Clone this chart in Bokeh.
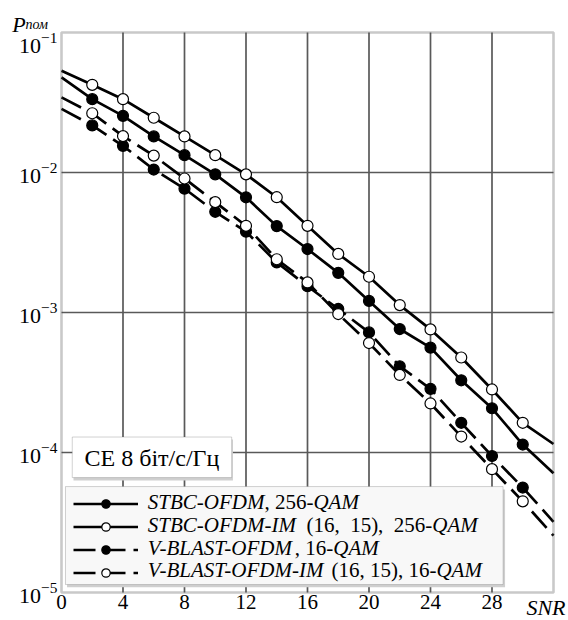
from bokeh.plotting import figure
from bokeh.models import (Range1d, FixedTicker, LogTickFormatter, Label, LogScale,
                          BoxAnnotation, Legend, LegendItem, LinearAxis, LogAxis)
from bokeh.embed import file_html
from bokeh.resources import INLINE

# ---------------- data ----------------
snr = [2, 4, 6, 8, 10, 12, 14, 16, 18, 20, 22, 24, 26, 28, 30]
stbc_ofdm = [3.34e-2, 2.54e-2, 1.81e-2, 1.33e-2, 9.7e-3, 6.65e-3, 4.14e-3, 2.84e-3,
             1.92e-3, 1.21e-3, 7.62e-4, 5.61e-4, 3.28e-4, 2.07e-4, 1.14e-4]
stbc_ofdm_im = [4.23e-2, 3.34e-2, 2.46e-2, 1.81e-2, 1.33e-2, 9.7e-3, 6.66e-3, 4.16e-3,
                2.62e-3, 1.80e-3, 1.13e-3, 7.57e-4, 4.77e-4, 2.82e-4, 1.63e-4]
vblast_ofdm = [2.17e-2, 1.55e-2, 1.05e-2, 7.67e-3, 5.24e-3, 3.78e-3, 2.28e-3, 1.54e-3,
               1.06e-3, 7.21e-4, 4.13e-4, 2.85e-4, 1.63e-4, 9.44e-5, 5.62e-5]
vblast_ofdm_im = [2.65e-2, 1.82e-2, 1.32e-2, 9.06e-3, 6.14e-3, 4.16e-3, 2.40e-3, 1.64e-3,
                  9.75e-4, 6.05e-4, 3.58e-4, 2.24e-4, 1.30e-4, 7.6e-5, 4.48e-5]

# where the curves meet the frame (SNR = 0 and SNR = 32)
snr_ends = [0, 32]
stbc_ofdm_ends = [4.78e-2, 7.1e-5]
stbc_ofdm_im_ends = [5.33e-2, 1.15e-4]
vblast_ofdm_ends = [2.85e-2, 3.2e-5]
vblast_ofdm_im_ends = [3.44e-2, 2.55e-5]

x_lim = [0, 32]
y_lim = [1e-5, 1e-1]
x_ticks = [0, 4, 8, 12, 16, 20, 24, 28]
y_ticks = [1e-5, 1e-4, 1e-3, 1e-2, 1e-1]

legend_rows = [
    [("STBC-OFDM", "italic"), (", 256-", "normal"), ("QAM", "italic")],
    [("STBC-OFDM-IM", "italic"), ("\u00a0\u00a0(16,\u00a0\u00a015),\u00a0\u00a0256-", "normal"), ("QAM", "italic")],
    [("V-BLAST-OFDM", "italic"), (", 16-", "normal"), ("QAM", "italic")],
    [("V-BLAST-OFDM-IM", "italic"), ("\u00a0(16, 15), 16-", "normal"), ("QAM", "italic")],
]
se_text = "СЕ 8 біт/с/Гц"
y_title = ("P", "пом")
x_title = "SNR"

FONT = "Liberation Serif"

# ---------------- figure ----------------
# the frame fills the canvas; the chart box (0..32, 1e-5..1e-1) sits inside it
W, H = 568, 618
BOX_L, BOX_R, BOX_T, BOX_B = 61, 553, 32, 592      # px inside the canvas
ux = (BOX_R - BOX_L) / (x_lim[1] - x_lim[0])
dec = (BOX_B - BOX_T) / 4.0
x0 = x_lim[0] - BOX_L / ux
x1 = x_lim[1] + (W - BOX_R) / ux
ly0 = -5 - (H - BOX_B) / dec
ly1 = -1 + BOX_T / dec

p = figure(width=W, height=H, x_range=Range1d(x0, x1),
           y_range=Range1d(10 ** ly0, 10 ** ly1), y_axis_type="log",
           x_axis_location=None, y_axis_location=None,
           output_backend="svg", toolbar_location=None,
           min_border=0, min_border_left=0, min_border_right=0,
           min_border_top=0, min_border_bottom=0)
p.background_fill_color = "white"
p.border_fill_color = "white"
p.outline_line_color = None
p.grid.visible = False

# the top tick label of the reference sits lower than its grid line
top_shift = 10 / dec
p.extra_y_ranges = {"ytop": Range1d(10 ** (ly0 + top_shift), 10 ** (ly1 + top_shift))}
p.extra_y_scales = {"ytop": LogScale()}

xaxis = LinearAxis(ticker=FixedTicker(ticks=x_ticks), fixed_location=y_lim[0])
yaxis = LogAxis(ticker=FixedTicker(ticks=y_ticks[:-1]), formatter=LogTickFormatter(),
                fixed_location=x_lim[0])
yaxis_top = LogAxis(y_range_name="ytop", ticker=FixedTicker(ticks=y_ticks[-1:]),
                    formatter=LogTickFormatter(), fixed_location=x_lim[0])
for ax in (xaxis, yaxis, yaxis_top):
    ax.axis_line_color = None
    ax.major_tick_line_color = None
    ax.minor_tick_line_color = None
    ax.major_tick_out = 0
    ax.major_tick_in = 0
    ax.minor_tick_out = 0
    ax.minor_tick_in = 0
    ax.major_label_text_font = FONT
    ax.major_label_text_color = "black"
xaxis.major_label_text_font_size = "21px"
yaxis.major_label_text_font_size = "22px"
yaxis_top.major_label_text_font_size = "22px"
xaxis.major_label_standoff = 2
yaxis.major_label_standoff = 4
yaxis_top.major_label_standoff = 4
p.add_layout(xaxis, "below")
p.add_layout(yaxis, "left")
p.add_layout(yaxis_top, "left")

# grid lines limited to the chart box
gx = x_ticks[1:]
p.segment(x0=gx, x1=gx, y0=[y_lim[0]] * len(gx), y1=[y_lim[1]] * len(gx),
          line_color="#595959", line_width=1.7, level="underlay")
gy = y_ticks[1:-1]
p.segment(x0=[x_lim[0]] * len(gy), x1=[x_lim[1]] * len(gy), y0=gy, y1=gy,
          line_color="#595959", line_width=1.7, level="underlay")

# ---------------- series ----------------
series = [
    (stbc_ofdm, stbc_ofdm_ends, "solid", "black"),
    (stbc_ofdm_im, stbc_ofdm_im_ends, "solid", "white"),
    (vblast_ofdm, vblast_ofdm_ends, "22 8", "black"),
    (vblast_ofdm_im, vblast_ofdm_im_ends, "22 8", "white"),
]
line_rs, mark_rs = [], []
for vals, ends, dash, fill in series:
    xs = [snr_ends[0]] + snr + [snr_ends[1]]
    ys = [ends[0]] + vals + [ends[1]]
    line_rs.append(p.line(xs, ys, line_color="black", line_width=2.7, line_dash=dash))
for vals, ends, dash, fill in series:
    mark_rs.append(p.scatter(snr, vals, size=11, marker="circle", fill_color=fill,
                             line_color="black", line_width=1.2))

# chart box outline
p.add_layout(BoxAnnotation(left=x_lim[0], right=x_lim[1], bottom=y_lim[0], top=y_lim[1],
                           fill_color=None, fill_alpha=0, line_color="#4d4d4d",
                           line_width=2.6))

# ---------------- spectral-efficiency box ----------------
p.add_layout(BoxAnnotation(left=0.78, right=11.15, top=1.24e-4, bottom=6.3e-5,
                           fill_color="#d0d0d0", fill_alpha=1, line_color=None))
p.add_layout(BoxAnnotation(left=0.70, right=11.07, top=1.29e-4, bottom=6.62e-5,
                           fill_color="white", fill_alpha=1, line_color="#6a6a6a",
                           line_width=1))
p.add_layout(Label(x=5.88, y=9.2e-5, text=se_text, text_font=FONT,
                   text_font_size="24px", text_align="center",
                   text_baseline="middle", text_color="black"))

# ---------------- legend ----------------
p.add_layout(BoxAnnotation(left=0.36, right=28.85, top=5.45e-5, bottom=1.09e-5,
                           fill_color="#cfcfcf", fill_alpha=1, line_color=None))
p.add_layout(BoxAnnotation(left=0.26, right=28.72, top=5.71e-5, bottom=1.14e-5,
                           fill_color="#f8f8f8", fill_alpha=1, line_color="#6a6a6a",
                           line_width=1))
items = [LegendItem(label=" ", renderers=[lr, mr]) for lr, mr in zip(line_rs, mark_rs)]
legend = Legend(items=items, location=(73, H - 582.5), orientation="vertical",
                glyph_width=65, glyph_height=21, label_height=21, spacing=2,
                padding=0, margin=0, border_line_color=None,
                background_fill_alpha=0, label_standoff=0, label_width=0,
                label_text_font_size="1px")
p.add_layout(legend)

ITALIC = {"S": 500, "T": 556, "B": 611, "C": 667, "-": 333, "O": 722, "F": 611,
          "D": 722, "M": 833, "I": 333, "V": 611, "L": 556, "A": 611, "Q": 722}
ROMAN = {",": 250, " ": 250, "\u00a0": 250, "-": 333, "(": 333, ")": 333}
LEG_SIZE = 21
row_logs = [-4.354, -4.515, -4.680, -4.840]
for pieces, lg in zip(legend_rows, row_logs):
    off = 0.0
    for txt, style in pieces:
        p.add_layout(Label(x=5.61, y=10 ** lg, x_offset=off, text=txt,
                           text_font=FONT, text_font_size=f"{LEG_SIZE}px",
                           text_font_style=style, text_baseline="middle",
                           text_align="left", text_color="black"))
        table = ITALIC if style == "italic" else ROMAN
        off += sum(table.get(c, 500) for c in txt) * LEG_SIZE / 1000.0

# ---------------- axis titles ----------------
title_base = 10 ** (-1 + (BOX_T - 24) / dec)
p.add_layout(Label(x=(11.7 - BOX_L) / ux, y=title_base, text=y_title[0], text_font=FONT,
                   text_font_size="22px", text_font_style="italic",
                   text_baseline="alphabetic", text_color="black"))
p.add_layout(Label(x=(25 - BOX_L) / ux, y=title_base, text=y_title[1], text_font=FONT,
                   text_font_size="14px", text_font_style="italic",
                   text_baseline="alphabetic", text_color="black"))
p.add_layout(Label(x=(565 - BOX_L) / ux, y=10 ** (-5 - 2 / dec), text=x_title,
                   text_font=FONT, text_font_size="22px", text_font_style="italic",
                   text_baseline="top", text_align="right", text_color="black"))

open("out.html", "w").write(file_html(p, INLINE))
